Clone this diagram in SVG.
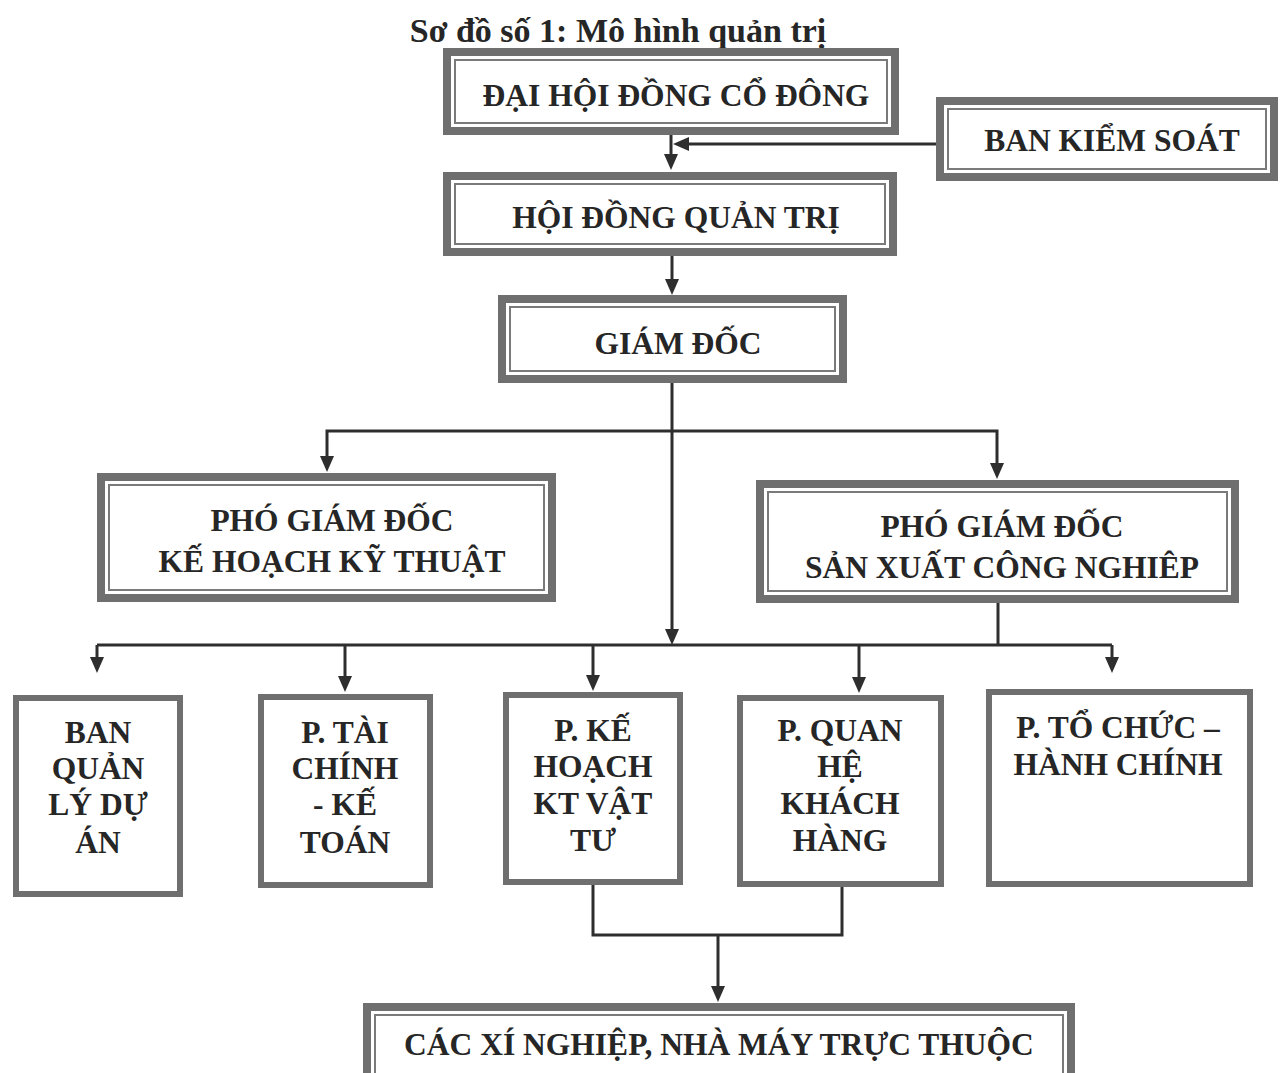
<svg xmlns="http://www.w3.org/2000/svg" width="1282" height="1073" viewBox="0 0 1282 1073">
<defs>
<marker id="ah" markerWidth="16" markerHeight="16" refX="11" refY="8" orient="auto" markerUnits="userSpaceOnUse"><path d="M0,1 L16,8 L0,15 z" fill="#2e2e2e"/></marker>
</defs>
<style>
.bg{fill:#ffffff}
.outer{fill:#ffffff;stroke:#6f6f6f;stroke-width:8}
.inner{fill:none;stroke:#7a7a7a;stroke-width:2}
.single{fill:#ffffff;stroke:#6f6f6f;stroke-width:6}
.t{font-family:"Liberation Serif","Times New Roman",serif;font-weight:bold;font-size:31.5px;fill:#262626;text-anchor:middle}
.title{font-size:34px}
.c{fill:none;stroke:#2e2e2e;stroke-width:3}
.a{marker-end:url(#ah)}
</style>
<rect class="bg" x="0" y="0" width="1282" height="1073"/>
<text class="t title" x="618" y="42">Sơ đồ số 1: Mô hình quản trị</text>

<g id="connectors">
<line class="c a" x1="671" y1="135" x2="671" y2="165"/>
<line class="c a" x1="936" y1="144" x2="678" y2="144"/>
<line class="c a" x1="672" y1="256" x2="672" y2="290"/>
<line class="c a" x1="672" y1="383" x2="672" y2="640"/>
<polyline class="c a" points="672,431 327,431 327,467"/>
<polyline class="c a" points="672,431 997,431 997,474"/>
<line class="c" x1="998" y1="603" x2="998" y2="645"/>
<line class="c" x1="97" y1="645" x2="1112" y2="645"/>
<line class="c a" x1="97" y1="645" x2="97" y2="668"/>
<line class="c a" x1="345" y1="645" x2="345" y2="687"/>
<line class="c a" x1="593" y1="645" x2="593" y2="686"/>
<line class="c a" x1="859" y1="645" x2="859" y2="688"/>
<line class="c a" x1="1112" y1="645" x2="1112" y2="668"/>
<polyline class="c" points="593,885 593,935 842,935 842,887"/>
<line class="c a" x1="718" y1="935" x2="718" y2="997"/>
</g>

<g id="n-dhdcd">
<rect class="outer" x="447" y="52" width="448" height="79"/>
<rect class="inner" x="455" y="60" width="432" height="63"/>
<text class="t" x="676" y="106">ĐẠI HỘI ĐỒNG CỔ ĐÔNG</text>
</g>
<g id="n-bks">
<rect class="outer" x="940" y="101" width="334" height="76"/>
<rect class="inner" x="948" y="109" width="318" height="60"/>
<text class="t" x="1112" y="151">BAN KIỂM SOÁT</text>
</g>
<g id="n-hdqt">
<rect class="outer" x="447" y="176" width="446" height="76"/>
<rect class="inner" x="455" y="184" width="430" height="60"/>
<text class="t" x="676" y="228">HỘI ĐỒNG QUẢN TRỊ</text>
</g>
<g id="n-gd">
<rect class="outer" x="502" y="299" width="341" height="80"/>
<rect class="inner" x="510" y="307" width="325" height="64"/>
<text class="t" x="678" y="354">GIÁM ĐỐC</text>
</g>
<g id="n-pgd-khkt">
<rect class="outer" x="101" y="477" width="451" height="121"/>
<rect class="inner" x="109" y="485" width="435" height="105"/>
<text class="t" x="332" y="531">PHÓ GIÁM ĐỐC</text>
<text class="t" x="332" y="572">KẾ HOẠCH KỸ THUẬT</text>
</g>
<g id="n-pgd-sxcn">
<rect class="outer" x="760" y="484" width="475" height="115"/>
<rect class="inner" x="768" y="492" width="459" height="99"/>
<text class="t" x="1002" y="537">PHÓ GIÁM ĐỐC</text>
<text class="t" x="1002" y="578">SẢN XUẤT CÔNG NGHIÊP</text>
</g>
<g id="n-bqlda">
<rect class="single" x="16" y="698" width="164" height="196"/>
<text class="t" x="98" y="743">BAN</text>
<text class="t" x="98" y="779">QUẢN</text>
<text class="t" x="98" y="815">LÝ DỰ</text>
<text class="t" x="98" y="853">ÁN</text>
</g>
<g id="n-ptckt">
<rect class="single" x="261" y="697" width="169" height="188"/>
<text class="t" x="345" y="743">P. TÀI</text>
<text class="t" x="345" y="779">CHÍNH</text>
<text class="t" x="345" y="815">- KẾ</text>
<text class="t" x="345" y="853">TOÁN</text>
</g>
<g id="n-pkhktvt">
<rect class="single" x="506" y="695" width="174" height="187"/>
<text class="t" x="593" y="741">P. KẾ</text>
<text class="t" x="593" y="777">HOẠCH</text>
<text class="t" x="593" y="814">KT VẬT</text>
<text class="t" x="593" y="851">TƯ</text>
</g>
<g id="n-pqhkh">
<rect class="single" x="740" y="698" width="201" height="186"/>
<text class="t" x="840" y="741">P. QUAN</text>
<text class="t" x="840" y="777">HỆ</text>
<text class="t" x="840" y="814">KHÁCH</text>
<text class="t" x="840" y="851">HÀNG</text>
</g>
<g id="n-ptchc">
<rect class="single" x="989" y="692" width="261" height="192"/>
<text class="t" x="1118" y="738">P. TỔ CHỨC –</text>
<text class="t" x="1118" y="775">HÀNH CHÍNH</text>
</g>
<g id="n-xinghiep">
<rect class="outer" x="367" y="1007" width="704" height="90"/>
<rect class="inner" x="375" y="1015" width="688" height="74"/>
<text class="t" x="719" y="1055">CÁC XÍ NGHIỆP, NHÀ MÁY TRỰC THUỘC</text>
</g>
</svg>
